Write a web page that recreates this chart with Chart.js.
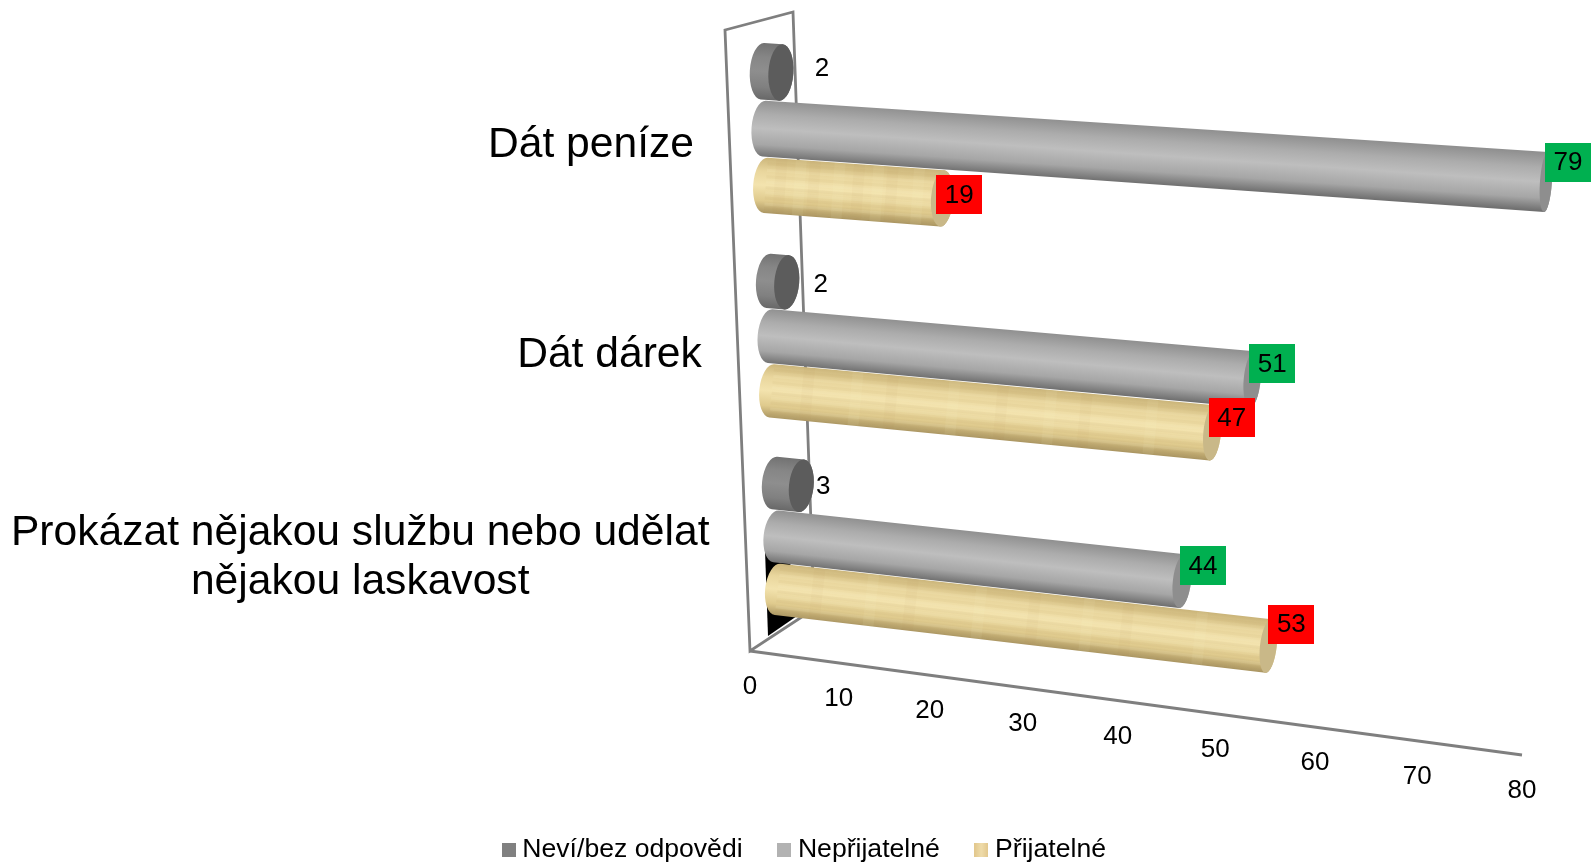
<!DOCTYPE html>
<html lang="cs">
<head>
<meta charset="utf-8">
<style>html,body{margin:0;padding:0;background:#fff}canvas{display:block}</style>
<script src="https://cdn.jsdelivr.net/npm/chart.js@4"></script>
</head>
<body>
<canvas id="c" width="1591" height="865"></canvas>
<script>
const categories = ["Dát peníze", "Dát dárek", ["Prokázat nějakou službu nebo udělat", "nějakou laskavost"]];
const seriesNames = ["Neví/bez odpovědi", "Nepřijatelné", "Přijatelné"];
const neviValues = [2, 2, 3];
const nepriValues = [79, 51, 44];
const priValues = [19, 47, 53];
const xTicks = [0, 10, 20, 30, 40, 50, 60, 70, 80];

/* projection of the flat plot plane onto the tilted 3D view */
const QUAD = {A:[761,22], B:[1561,68], C:[1536,725], D:[779,634]};
const FRONT = {from:[750,651], to:[1522,755], k:0.91, dy:36};
const WALL = [[725,30],[793,12],[814,609],[750,651]];
const SHADOW = [[765,550],[800,570],[797,616],[768,636]];
const LABEL_NUDGE = [
  [[41,-5],[34,1.5],[22,0]],
  [[22,-20],[20,-15.5],[21,-15.5]],
  [[17,-3.5],[19.5,-15.5],[23,-22]]
];
const LOOK = [
  {stops:['#727272','#868686','#8e8e8e','#808080','#686868'], cap:'#5c5c5c'},
  {stops:['#909090','#acacac','#bebebe','#a6a6a6','#707070'], cap:'#8e8e8e'},
  {stops:['#cbb57a','#e9d69d','#f3e3ae','#dfca8d','#ab9662'], cap:'#c9b888'}
];
const BOX_COLORS = [null, '#00B050', '#FF0000'];
const STREAKS = [-0.78,-0.55,-0.31,-0.12,0.09,0.27,0.46,0.68,0.84];
const BANDS = [0.08,0.19,0.27,0.41,0.52,0.63,0.71,0.86];

function homography(q){
  const [x0,y0]=q.A,[x1,y1]=q.B,[x2,y2]=q.C,[x3,y3]=q.D;
  const dx1=x1-x2,dx2=x3-x2,sx=x0-x1+x2-x3,dy1=y1-y2,dy2=y3-y2,sy=y0-y1+y2-y3;
  const den=dx1*dy2-dx2*dy1;
  const g=(sx*dy2-dx2*sy)/den,h=(dx1*sy-sx*dy1)/den;
  const a=x1-x0+g*x1,b=x3-x0+h*x3,d=y1-y0+g*y1,e=y3-y0+h*y3;
  return (u,v)=>{const w=g*u+h*v+1;return {x:(a*u+b*v+x0)/w,y:(d*u+e*v+y0)/w};};
}
const H = homography(QUAD);
const capRx = x => Math.max(6, 12.5-(x-780)*0.0085);

function tube(ctx,P0,P1,h0,h1,look,streaks){
  const ang=Math.atan2(P1.y-P0.y,P1.x-P0.x), nx=-Math.sin(ang), ny=Math.cos(ang);
  const r0=capRx(P0.x), r1=capRx(P1.x);
  const body=()=>{ctx.beginPath();
    ctx.ellipse(P0.x,P0.y,r0,h0,ang,Math.PI/2,Math.PI*1.5);
    ctx.ellipse(P1.x,P1.y,r1,h1,ang,-Math.PI/2,Math.PI/2);
    ctx.closePath();};
  const mx=(P0.x+P1.x)/2,my=(P0.y+P1.y)/2,hm=(h0+h1)/2;
  const g=ctx.createLinearGradient(mx-nx*hm,my-ny*hm,mx+nx*hm,my+ny*hm);
  [0,0.25,0.5,0.78,1].forEach((s,i)=>g.addColorStop(s,look.stops[i]));
  ctx.save();body();ctx.fillStyle=g;ctx.fill();
  if(streaks){
    ctx.clip();
    ctx.lineWidth=3;
    STREAKS.forEach((s,i)=>{
      ctx.strokeStyle=i%2?'rgba(255,246,205,0.12)':'rgba(170,135,70,0.06)';
      ctx.beginPath();ctx.moveTo(P0.x+nx*h0*s,P0.y+ny*h0*s);ctx.lineTo(P1.x+nx*h1*s,P1.y+ny*h1*s);ctx.stroke();
    });
    ctx.lineWidth=11;
    BANDS.forEach((t,i)=>{
      const cx=P0.x+(P1.x-P0.x)*t,cy=P0.y+(P1.y-P0.y)*t;
      ctx.strokeStyle=i%2?'rgba(255,248,210,0.07)':'rgba(175,140,80,0.04)';
      ctx.beginPath();ctx.moveTo(cx-nx*hm,cy-ny*hm);ctx.lineTo(cx+nx*hm,cy+ny*hm);ctx.stroke();
    });
  }
  ctx.restore();
  ctx.beginPath();ctx.ellipse(P1.x,P1.y,r1,h1,ang,0,Math.PI*2);ctx.fillStyle=look.cap;ctx.fill();
}

const view3d = {
  id:'view3d',
  afterLayout(chart){
    chart.legend.top+=8;chart.legend.bottom+=8;
  },
  beforeDatasetsDraw(chart){
    const ctx=chart.ctx, xs=chart.scales.x, ys=chart.scales.y;
    const U=px=>(px-xs.left)/(xs.right-xs.left), V=py=>(py-ys.top)/(ys.bottom-ys.top);
    ctx.save();
    /* wall and floor */
    ctx.strokeStyle='#7f7f7f';ctx.lineWidth=2.8;ctx.lineJoin='miter';
    ctx.beginPath();WALL.forEach((p,i)=>i?ctx.lineTo(p[0],p[1]):ctx.moveTo(p[0],p[1]));ctx.closePath();ctx.stroke();
    ctx.beginPath();ctx.moveTo(FRONT.from[0],FRONT.from[1]);ctx.lineTo(FRONT.to[0],FRONT.to[1]);ctx.stroke();
    ctx.fillStyle='#000';ctx.beginPath();SHADOW.forEach((p,i)=>i?ctx.lineTo(p[0],p[1]):ctx.moveTo(p[0],p[1]));ctx.closePath();ctx.fill();

    /* cylinders, back series first */
    const tips=[];
    [2,1,0].forEach(di=>{
      chart.getDatasetMeta(di).data.forEach((el,i)=>{
        const u0=U(el.base),u1=U(el.x),v=V(el.y),dv=(el.height/2)/(ys.bottom-ys.top);
        const P0=H(u0,v),P1=H(u1,v);
        const h0=(H(u0,v+dv).y-H(u0,v-dv).y)/2,h1=(H(u1,v+dv).y-H(u1,v-dv).y)/2;
        tube(ctx,P0,P1,h0,h1,LOOK[di],di===2);
        tips.push({di,i,P1});
      });
    });

    /* value labels */
    ctx.textAlign='center';ctx.textBaseline='middle';ctx.font='26px "Liberation Sans"';
    tips.forEach(t=>{
      const n=LABEL_NUDGE[t.di][t.i],x=t.P1.x+n[0],y=t.P1.y+n[1];
      if(BOX_COLORS[t.di]){ctx.fillStyle=BOX_COLORS[t.di];ctx.fillRect(Math.round(x-23),Math.round(y-19.5),46,39);}
      ctx.fillStyle='#000';
      ctx.fillText(chart.data.datasets[t.di].data[t.i],x,y+1);
    });

    /* value axis labels along the front edge */
    ctx.fillStyle='#000';
    xs.ticks.forEach(tk=>{
      const u=U(xs.getPixelForValue(tk.value));
      const t=u*FRONT.k/((1-u)+u*FRONT.k);
      const x=FRONT.from[0]+(FRONT.to[0]-FRONT.from[0])*t,y=FRONT.from[1]+(FRONT.to[1]-FRONT.from[1])*t;
      ctx.fillText(String(tk.value),x,y+FRONT.dy);
    });

    /* category labels */
    ctx.font='42.6px "Liberation Sans"';
    categories.forEach((lab,i)=>{
      const v=V(ys.getPixelForValue(i)),p=H(0,v);
      const lines=Array.isArray(lab)?lab:[lab];
      const w=Math.max(...lines.map(l=>ctx.measureText(l).width));
      const right=p.x-71+5.2*v,cy=p.y+15+8*v,lh=49;
      lines.forEach((l,k)=>ctx.fillText(l,right-w/2,cy+(k-(lines.length-1)/2)*lh));
    });
    ctx.restore();
    return false;
  }
};

function swatch(fill){
  const c=document.createElement('canvas');c.width=14;c.height=14;
  const x=c.getContext('2d');
  if(Array.isArray(fill)){const g=x.createLinearGradient(0,0,14,0);g.addColorStop(0,fill[0]);g.addColorStop(0.5,fill[1]);g.addColorStop(1,fill[0]);x.fillStyle=g;}
  else x.fillStyle=fill;
  x.fillRect(0,0,14,14);return c;
}
const swatches=[swatch('#808080'),swatch('#b2b2b2'),swatch(['#e2c78c','#efdcaa'])];

Chart.defaults.font.family='"Liberation Sans"';
new Chart(document.getElementById('c'),{
  type:'bar',
  data:{labels:categories,datasets:[
    {label:seriesNames[0],data:neviValues,backgroundColor:'#808080'},
    {label:seriesNames[1],data:nepriValues,backgroundColor:'#b2b2b2'},
    {label:seriesNames[2],data:priValues,backgroundColor:'#e8d49c'}
  ]},
  options:{
    indexAxis:'y',responsive:false,animation:false,devicePixelRatio:1,
    events:[],
    layout:{padding:{left:23,right:0,top:0,bottom:0}},
    datasets:{bar:{categoryPercentage:0.81,barPercentage:0.98}},
    scales:{
      x:{display:false,min:0,max:80,afterBuildTicks(s){s.ticks=xTicks.map(value=>({value}));}},
      y:{display:false}
    },
    plugins:{
      tooltip:{enabled:false},
      legend:{position:'bottom',labels:{
        font:{size:26.6},color:'#000',usePointStyle:true,pointStyleWidth:1,padding:41,boxHeight:14,
        generateLabels(chart){
          const items=Chart.defaults.plugins.legend.labels.generateLabels(chart);
          items.forEach((it,i)=>{it.pointStyle=swatches[i];});
          return items;
        }
      }}
    }
  },
  plugins:[view3d]
});
</script>
</body>
</html>
